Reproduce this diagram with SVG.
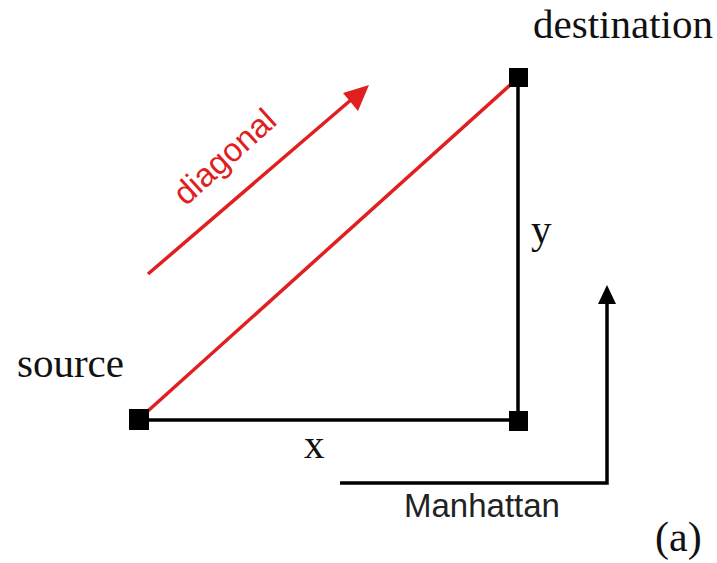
<svg xmlns="http://www.w3.org/2000/svg" width="717" height="563" viewBox="0 0 717 563">
<defs>
<style>
.serif{font-family:"Liberation Serif","Times New Roman",serif;fill:#111;}
.sans{font-family:"Liberation Sans",Arial,sans-serif;}
.blk{stroke:#000;stroke-width:3.5;fill:none;}
.red{stroke:#e02020;stroke-width:3.5;fill:none;}
.sq{fill:#000;}
</style>
</defs>
<rect width="717" height="563" fill="#fff"/>
<g id="connectors">
<line class="blk" x1="139" y1="420" x2="518" y2="420"/>
<line class="blk" x1="518" y1="77" x2="518" y2="420"/>
<line class="red" x1="139" y1="419" x2="518" y2="78"/>
<path class="red" d="M148,274 L352,99" />
<path d="M369,85 L343,93 L358,111 z" fill="#e02020"/>
<path class="blk" d="M340,483 L607,483 L607,300"/>
<path d="M607,285 L598,304 L616,304 z" fill="#000"/>
</g>
<g id="source">
<rect class="sq" x="129" y="409" width="20" height="21"/>
<text class="serif" x="17" y="377" font-size="41">source</text>
</g>
<g id="corner">
<rect class="sq" x="509" y="411" width="19" height="20"/>
</g>
<g id="destination">
<rect class="sq" x="509" y="68" width="19" height="19"/>
<text class="serif" x="533" y="38" font-size="41">destination</text>
</g>
<g id="labels">
<text class="serif" x="531" y="243" font-size="41">y</text>
<text class="serif" x="304" y="458" font-size="41">x</text>
<text class="sans" x="404" y="517" font-size="33" fill="#222">Manhattan</text>
<text class="serif" x="655" y="551" font-size="42">(a)</text>
<text class="sans" x="232" y="165" font-size="33" fill="#e02020" text-anchor="middle" transform="rotate(-42 232 165)">diagonal</text>
</g>
</svg>
